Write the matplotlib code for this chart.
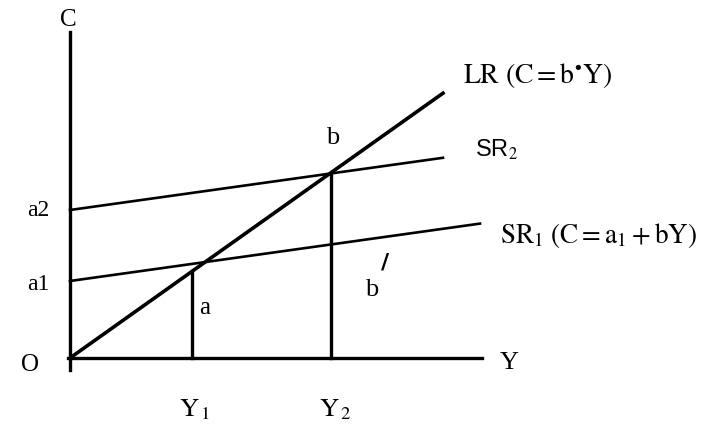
import matplotlib
matplotlib.use("Agg")
import matplotlib.pyplot as plt
import numpy as np

plt.rcParams['mathtext.fontset'] = 'stix'
plt.rcParams['font.family'] = ['Liberation Serif', 'DejaVu Serif']

# Model parameters (in diagram units)
a1 = 77          # intercept of SR1
a2 = 148         # intercept of SR2
b_short = 0.14   # short-run slope b
b_long = 0.71    # long-run slope b*
Y1 = 122
Y2 = 261
Y_end_LR = 373
Y_end_SR2 = 373
Y_end_SR1 = 410
Y_axis_max = 412
C_axis_max = 326

fig = plt.figure(figsize=(7.02, 4.39), dpi=100)
ax = fig.add_axes([0, 0, 1, 1])
ax.set_xlim(-70, 632)
ax.set_ylim(-80, 359)
ax.axis('off')

lw = 2.4
k = 'black'
# axes
ax.plot([0, 0], [-12, C_axis_max], color=k, lw=lw)
ax.plot([-2, Y_axis_max], [0, 0], color=k, lw=lw)

# long-run line
yl = np.array([0, Y_end_LR])
ax.plot(yl, b_long * yl, color=k, lw=2.6)
# short-run lines
ys2 = np.array([0, Y_end_SR2])
ax.plot(ys2, a2 + b_short * ys2, color=k, lw=1.9)
ys1 = np.array([0, Y_end_SR1])
ax.plot(ys1, a1 + b_short * ys1, color=k, lw=1.9)

# vertical drop lines
for Yv in (Y1, Y2):
    ax.plot([Yv, Yv], [0, b_long * Yv], color=k, lw=lw)

ax.text(-2, 339, 'C', fontsize=18, ha='center', va='center')
ax.text(-40, -6, 'O', fontsize=18, ha='center', va='center')
ax.text(430, -4, 'Y', fontsize=19, ha='left', va='center')
ax.text(-32, 148, 'a2', fontsize=17, ha='center', va='center')
ax.text(-32, 75, 'a1', fontsize=17, ha='center', va='center')
ax.text(135, 51, 'a', fontsize=18, ha='center', va='center')
ax.text(263, 221, 'b', fontsize=19, ha='center', va='center')
ax.text(302, 69, 'b', fontsize=19, ha='center', va='center')
ax.text(315, 97, '/', fontsize=16, ha='center', va='center', fontweight='bold',
        family=['DejaVu Sans'])
ax.text(Y1 + 3, -51, r'$\mathrm{Y_{\,1}}$', fontsize=19, ha='center', va='center')
ax.text(Y2 + 4, -51, r'$\mathrm{Y_{\,2}}$', fontsize=19, ha='center', va='center')
ax.text(405, 209, r'SR$_2$', fontsize=17, ha='left', va='center',
        family=['Liberation Sans', 'DejaVu Sans'])
ax.text(430, 123, r'$\mathrm{SR_1\ (C = a_1 + bY)}$', fontsize=19.5, ha='left', va='center')
ax.text(393, 283, r'$\mathrm{LR\ (C = b^{\bullet}Y)}$', fontsize=20, ha='left', va='center')

fig.savefig('out.png', dpi=100)
